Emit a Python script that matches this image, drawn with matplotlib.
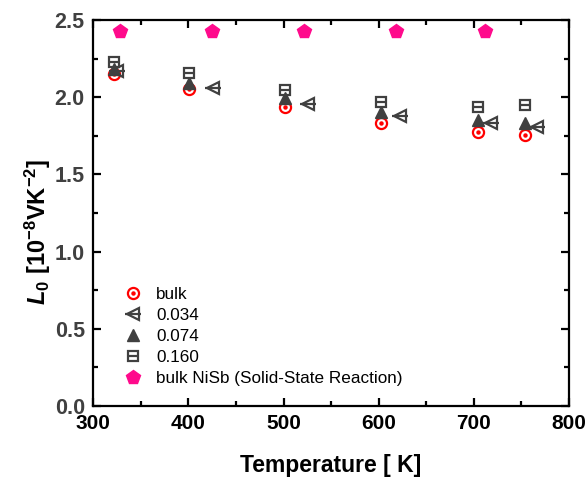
import matplotlib.pyplot as plt
from matplotlib.legend_handler import HandlerTuple

plt.rcParams['font.family'] = ['Liberation Sans', 'DejaVu Sans']
plt.rcParams['mathtext.fontset'] = 'custom'
plt.rcParams['mathtext.rm'] = 'Liberation Sans:bold'
plt.rcParams['mathtext.it'] = 'Liberation Sans:bold:italic'
plt.rcParams['mathtext.bf'] = 'Liberation Sans:bold'

# temperatures [K]
t_main = [322, 401, 502, 602, 704, 754]
t_034 = [325, 426, 526, 622, 718, 766]
t_nisb = [328, 425, 522, 618, 712]

# L0 [1e-8 V K^-2]
l_bulk = [2.15, 2.053, 1.936, 1.833, 1.775, 1.755]
l_034 = [2.17, 2.06, 1.956, 1.88, 1.833, 1.81]
l_074 = [2.18, 2.09, 1.995, 1.905, 1.85, 1.833]
l_160 = [2.23, 2.157, 2.047, 1.97, 1.937, 1.95]
l_nisb = [2.43, 2.43, 2.43, 2.43, 2.43]

gray = '#404040'
red = '#FF0000'
pink = '#FF0A8C'

fig = plt.figure(figsize=(5.86, 4.78), dpi=100)
ax = fig.add_axes([0.159, 0.151, 0.812, 0.807])

h_bulk = ax.plot(t_main, l_bulk, 'o', ms=8, mfc='none', mec=red, mew=1.6)[0]
h_bulk2 = ax.plot(t_main, l_bulk, 'o', ms=2.2, mfc=red, mec=red)[0]
h_034 = ax.plot(t_034, l_034, '<', ms=9, mfc='none', mec=gray, mew=1.6)[0]
h_0342 = ax.plot(t_034, l_034, '_', ms=11, mec=gray, mew=1.6)[0]
h_074 = ax.plot(t_main, l_074, '^', ms=8, mfc=gray, mec=gray)[0]
h_160 = ax.plot(t_main, l_160, 's', ms=7, mfc='none', mec=gray, mew=1.6)[0]
h_1602 = ax.plot(t_main, l_160, '_', ms=7, mec=gray, mew=1.6)[0]
h_nisb = ax.plot(t_nisb, l_nisb, 'p', ms=10, mfc=pink, mec=pink)[0]

ax.set_xlim(300, 800)
ax.set_ylim(0, 2.5)
ax.set_xticks([300, 400, 500, 600, 700, 800])
ax.set_xticks(range(350, 800, 100), minor=True)
ax.set_yticks([0, 0.5, 1.0, 1.5, 2.0, 2.5])
ax.set_yticks([0.25, 0.75, 1.25, 1.75, 2.25], minor=True)
ax.set_yticklabels(['0.0', '0.5', '1.0', '1.5', '2.0', '2.5'])
for s in ax.spines.values():
    s.set_linewidth(1.6)
ax.tick_params(which='both', direction='in', top=True, right=True, width=1.6)
ax.tick_params(which='major', length=6)
ax.tick_params(which='minor', length=3.5)
ax.tick_params(axis='x', labelsize=15, pad=6)
ax.tick_params(axis='y', labelsize=15.5, labelcolor=gray, pad=6)
for lab in ax.get_xticklabels() + ax.get_yticklabels():
    lab.set_fontweight('bold')

ax.set_xlabel('Temperature [ K]', fontsize=16.5, fontweight='bold')
ax.xaxis.set_label_coords(0.5, -0.125)
ax.set_ylabel(r'$L_0\ [10^{-8}\mathrm{VK}^{-2}]$', fontsize=17)
ax.yaxis.set_label_coords(-0.084, 0.45)

ax.legend([(h_bulk, h_bulk2), (h_034, h_0342), h_074, (h_160, h_1602), h_nisb],
          ['bulk', '0.034', '0.074', '0.160', 'bulk NiSb (Solid-State Reaction)'],
          handler_map={tuple: HandlerTuple(ndivide=1, pad=0)},
          loc='lower left', bbox_to_anchor=(0.03, 0.012), frameon=False,
          fontsize=12.3, handletextpad=0.75, labelspacing=0.35, handlelength=1.2)

fig.savefig('out.png', dpi=100)
